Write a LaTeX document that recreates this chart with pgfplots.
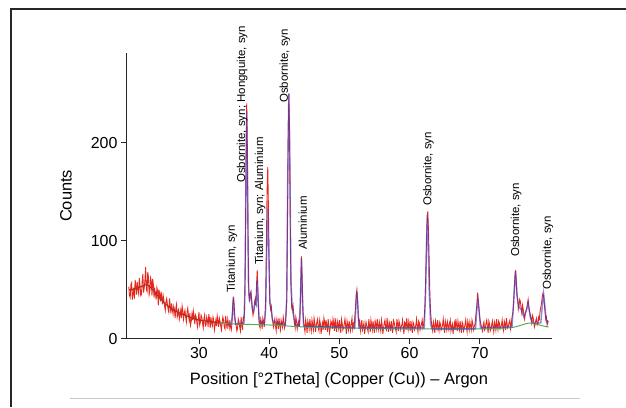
\documentclass[border=0pt]{standalone}
\usepackage{fontspec}
\setmainfont{Liberation Sans}
\usepackage{pgfplots}
\pgfplotsset{compat=1.18}
\definecolor{xred}{RGB}{230,40,28}
\definecolor{xblue}{RGB}{60,60,205}
\definecolor{xgreen}{RGB}{90,170,90}
\definecolor{xbrown}{RGB}{165,50,35}
\begin{document}
\begin{tikzpicture}[x=1bp,y=1bp]
\useasboundingbox (0,0) rectangle (626,407);
\draw[line width=1.5bp, black!85] (11,0) -- (11,398) -- (626,398);
\draw[line width=1bp, black!22] (70,9) -- (580,9);
\begin{axis}[
  scale only axis, width=426bp, height=285.7bp,
  at={(126bp,68.3bp)}, anchor=south west,
  xmin=19.6, xmax=80.3, ymin=0, ymax=291.5,
  axis x line*=bottom, axis y line*=left,
  axis line style={-, line width=1bp, black!85},
  xtick={30,40,50,60,70}, ytick={0,100,200},
  tick align=outside, major tick length=5bp,
  tick style={line width=0.9bp, black!85},
  tick label style={font=\fontsize{16}{18}\selectfont},
  /pgf/number format/assume math mode=true,
  xlabel={Position [°2Theta] (Copper (Cu)) – Argon},
  ylabel={Counts},
  label style={font=\fontsize{16.5}{19}\selectfont},
  xlabel style={at={(axis description cs:0.5,-0.146)}, anchor=center},
  ylabel style={at={(axis description cs:-0.141,0.5)}, anchor=center},
  clip=false,
]
% measured (noisy) pattern
\addplot[xred, line width=0.9bp] coordinates {
(20.0,53)(20.1,44)(20.2,42)(20.3,55)(20.4,57)(20.5,40)(20.6,46)(20.7,52)(20.8,41)(20.9,60)
(21.0,54)(21.1,45)(21.2,58)(21.3,50)(21.4,46)(21.5,62)(21.6,54)(21.7,44)(21.8,45)(21.9,58)
(22.0,66)(22.1,47)(22.2,52)(22.3,60)(22.4,73)(22.5,50)(22.6,48)(22.7,68)(22.8,63)(22.9,45)
(23.0,49)(23.1,62)(23.2,59)(23.3,44)(23.4,61)(23.5,55)(23.6,42)(23.7,50)(23.8,46)(23.9,40)
(24.0,52)(24.1,49)(24.2,34)(24.3,50)(24.4,45)(24.5,38)(24.6,48)(24.7,42)(24.8,35)(24.9,44)
(25.0,39)(25.1,33)(25.2,29)(25.3,38)(25.4,41)(25.5,35)(25.6,30)(25.7,27)(25.8,41)(25.9,34)
(26.0,26)(26.1,36)(26.2,30)(26.3,25)(26.4,33)(26.5,30)(26.6,21)(26.7,31)(26.8,35)(26.9,22)
(27.0,25)(27.1,31)(27.2,20)(27.3,24)(27.4,29)(27.5,21)(27.6,33)(27.7,28)(27.8,20)(27.9,26)
(28.0,29)(28.1,22)(28.2,17)(28.3,27)(28.4,31)(28.5,24)(28.6,19)(28.7,26)(28.8,14)(28.9,18)
(29.0,25)(29.1,19)(29.2,28)(29.3,23)(29.4,15)(29.5,24)(29.6,22)(29.7,16)(29.8,12)(29.9,21)
(30.0,27)(30.1,14)(30.2,17)(30.3,24)(30.4,22)(30.5,16)(30.6,11)(30.7,20)(30.8,24)(30.9,13)
(31.0,14)(31.1,22)(31.2,19)(31.3,12)(31.4,25)(31.5,20)(31.6,11)(31.7,22)(31.8,16)(31.9,13)
(32.0,22)(32.1,19)(32.2,9)(32.3,14)(32.4,19)(32.5,13)(32.6,23)(32.7,18)(32.8,12)(32.9,21)
(33.0,18)(33.1,13)(33.2,9)(33.3,17)(33.4,22)(33.5,19)(33.6,12)(33.7,10)(33.8,23)(33.9,17)
(34.0,10)(34.1,20)(34.2,15)(34.3,11)(34.4,19)(34.5,12)(34.6,9)(34.7,16)(34.8,33)(34.9,43)
(35.0,36)(35.1,22)(35.2,17)(35.3,13)(35.4,8)(35.5,11)(35.6,20)(35.7,17)(35.8,12)(35.9,8)
(36.0,22)(36.1,15)(36.2,9)(36.3,21)(36.4,19)(36.5,30)(36.6,80)(36.7,175)(36.8,240)(36.9,190)
(37.0,95)(37.1,45)(37.2,38)(37.3,46)(37.4,48)(37.5,40)(37.6,30)(37.7,24)(37.8,28)(37.9,36)
(38.0,40)(38.1,34)(38.2,55)(38.3,70)(38.4,48)(38.5,25)(38.6,14)(38.7,11)(38.8,20)(38.9,17)
(39.0,10)(39.1,21)(39.2,18)(39.3,12)(39.4,22)(39.5,40)(39.6,95)(39.7,150)(39.8,175)(39.9,130)
(40.0,70)(40.1,36)(40.2,30)(40.3,33)(40.4,22)(40.5,18)(40.6,12)(40.7,16)(40.8,20)(40.9,13)
(41.0,8)(41.1,20)(41.2,17)(41.3,10)(41.4,21)(41.5,14)(41.6,9)(41.7,19)(41.8,16)(41.9,12)
(42.0,22)(42.1,17)(42.2,11)(42.3,15)(42.4,24)(42.5,40)(42.6,110)(42.7,200)(42.8,250)(42.9,215)
(43.0,120)(43.1,55)(43.2,32)(43.3,30)(43.4,34)(43.5,25)(43.6,16)(43.7,11)(43.8,22)(43.9,18)
(44.0,10)(44.1,15)(44.2,18)(44.3,12)(44.4,25)(44.5,55)(44.6,84)(44.7,62)(44.8,30)(44.9,18)
(45.0,12)(45.1,7)(45.2,19)(45.3,14)(45.4,6)(45.5,18)(45.6,15)(45.7,10)(45.8,20)(45.9,13)
(46.0,8)(46.1,19)(46.2,14)(46.3,9)(46.4,21)(46.5,16)(46.6,7)(46.7,13)(46.8,17)(46.9,20)
(47.0,11)(47.1,8)(47.2,19)(47.3,15)(47.4,5)(47.5,12)(47.6,16)(47.7,9)(47.8,21)(47.9,17)
(48.0,9)(48.1,19)(48.2,13)(48.3,7)(48.4,20)(48.5,14)(48.6,6)(48.7,11)(48.8,18)(48.9,16)
(49.0,10)(49.1,20)(49.2,15)(49.3,8)(49.4,21)(49.5,13)(49.6,7)(49.7,18)(49.8,14)(49.9,10)
(50.0,19)(50.1,12)(50.2,6)(50.3,20)(50.4,16)(50.5,9)(50.6,11)(50.7,15)(50.8,20)(50.9,13)
(51.0,5)(51.1,18)(51.2,14)(51.3,9)(51.4,18)(51.5,12)(51.6,8)(51.7,16)(51.8,21)(51.9,10)
(52.0,15)(52.1,12)(52.2,22)(52.3,32)(52.4,45)(52.5,50)(52.6,38)(52.7,22)(52.8,14)(52.9,18)
(53.0,8)(53.1,13)(53.2,19)(53.3,9)(53.4,12)(53.5,16)(53.6,5)(53.7,11)(53.8,17)(53.9,14)
(54.0,10)(54.1,7)(54.2,20)(54.3,13)(54.4,7)(54.5,19)(54.6,14)(54.7,9)(54.8,18)(54.9,12)
(55.0,6)(55.1,18)(55.2,15)(55.3,10)(55.4,20)(55.5,13)(55.6,9)(55.7,17)(55.8,13)(55.9,8)
(56.0,19)(56.1,14)(56.2,5)(56.3,11)(56.4,16)(56.5,19)(56.6,11)(56.7,9)(56.8,21)(56.9,13)
(57.0,7)(57.1,17)(57.2,14)(57.3,8)(57.4,18)(57.5,12)(57.6,6)(57.7,19)(57.8,17)(57.9,13)
(58.0,10)(58.1,7)(58.2,20)(58.3,15)(58.4,8)(58.5,18)(58.6,15)(58.7,9)(58.8,12)(58.9,14)
(59.0,19)(59.1,11)(59.2,5)(59.3,17)(59.4,16)(59.5,9)(59.6,21)(59.7,13)(59.8,9)(59.9,18)
(60.0,14)(60.1,8)(60.2,18)(60.3,12)(60.4,6)(60.5,17)(60.6,15)(60.7,9)(60.8,11)(60.9,14)
(61.0,20)(61.1,12)(61.2,7)(61.3,18)(61.4,16)(61.5,9)(61.6,12)(61.7,15)(61.8,19)(61.9,11)
(62.0,14)(62.1,22)(62.2,35)(62.3,60)(62.4,95)(62.5,122)(62.6,130)(62.7,110)(62.8,78)(62.9,45)
(63.0,28)(63.1,18)(63.2,12)(63.3,8)(63.4,17)(63.5,13)(63.6,6)(63.7,18)(63.8,14)(63.9,10)
(64.0,19)(64.1,12)(64.2,8)(64.3,17)(64.4,15)(64.5,9)(64.6,11)(64.7,14)(64.8,20)(64.9,12)
(65.0,6)(65.1,18)(65.2,14)(65.3,9)(65.4,17)(65.5,13)(65.6,9)(65.7,16)(65.8,19)(65.9,8)
(66.0,12)(66.1,15)(66.2,5)(66.3,12)(66.4,16)(66.5,9)(66.6,20)(66.7,14)(66.8,8)(66.9,18)
(67.0,13)(67.1,9)(67.2,18)(67.3,12)(67.4,6)(67.5,17)(67.6,15)(67.7,8)(67.8,11)(67.9,14)
(68.0,19)(68.1,12)(68.2,7)(68.3,18)(68.4,14)(68.5,9)(68.6,17)(68.7,13)(68.8,9)(68.9,19)
(69.0,16)(69.1,9)(69.2,12)(69.3,14)(69.4,20)(69.5,28)(69.6,36)(69.7,47)(69.8,38)(69.9,30)
(70.0,22)(70.1,17)(70.2,14)(70.3,11)(70.4,8)(70.5,14)(70.6,17)(70.7,9)(70.8,11)(70.9,16)
(71.0,19)(71.1,12)(71.2,6)(71.3,18)(71.4,15)(71.5,8)(71.6,10)(71.7,14)(71.8,18)(71.9,12)
(72.0,7)(72.1,17)(72.2,14)(72.3,9)(72.4,20)(72.5,13)(72.6,9)(72.7,18)(72.8,16)(72.9,10)
(73.0,12)(73.1,14)(73.2,19)(73.3,11)(73.4,8)(73.5,18)(73.6,15)(73.7,9)(73.8,21)(73.9,15)
(74.0,11)(74.1,13)(74.2,17)(74.3,19)(74.4,10)(74.5,14)(74.6,22)(74.7,25)(74.8,32)(74.9,48)
(75.0,62)(75.1,70)(75.2,60)(75.3,45)(75.4,40)(75.5,30)(75.6,34)(75.7,40)(75.8,38)(75.9,31)
(76.0,26)(76.1,34)(76.2,30)(76.3,24)(76.4,20)(76.5,26)(76.6,28)(76.7,30)(76.8,36)(76.9,40)
(77.0,33)(77.1,28)(77.2,25)(77.3,20)(77.4,16)(77.5,24)(77.6,22)(77.7,17)(77.8,12)(77.9,15)
(78.0,19)(78.1,21)(78.2,14)(78.3,15)(78.4,22)(78.5,20)(78.6,28)(78.7,32)(78.8,36)(78.9,42)
(79.0,46)(79.1,44)(79.2,36)(79.3,28)(79.4,20)(79.5,22)(79.6,14)(79.7,18)(79.8,17)
};
% background (left part)
\addplot[xbrown, line width=1.1bp, smooth] table {
20.0 50
21.0 51
22.0 54
22.5 55
23.0 53
24.0 45
25.0 37
26.0 31
27.0 27
28.0 24
29.0 21
30.0 19
31.0 18
32.0 17
33.0 16
34.0 15.5
};
% background (green)
\addplot[xgreen, line width=1bp, smooth] table {
33.0 16
35.0 15
40.0 14
45.0 12
50.0 11
60.0 10
70.0 10
74.0 11
75.0 12
76.0 14
77.0 16
78.0 15
79.0 13
79.8 12
};
% calculated profile
\addplot[xblue, line width=1.4bp, opacity=0.6] table {
34.0 15
34.6 15
34.75 24
34.9 42
35.05 24
35.2 15
36.4 16
36.55 50
36.7 170
36.8 232
36.9 170
37.05 55
37.2 40
37.4 46
37.6 30
37.8 28
38.0 38
38.15 35
38.3 60
38.45 35
38.6 17
39.3 15
39.5 30
39.65 90
39.8 132
39.95 90
40.1 38
40.3 30
40.5 18
42.3 14
42.5 40
42.65 170
42.8 250
42.95 180
43.1 60
43.3 30
43.5 22
43.7 14
44.3 13
44.45 40
44.6 82
44.75 40
44.9 13
52.2 11
52.4 38
52.5 48
52.6 38
52.8 11
62.1 11
62.3 50
62.45 105
62.55 126
62.65 105
62.8 50
63.0 15
63.2 10
69.4 10
69.6 30
69.75 40
69.9 30
70.1 11
74.6 12
74.85 40
75.1 69
75.35 42
75.6 32
75.9 30
76.3 22
76.6 28
76.9 36
77.2 22
77.6 16
78.7 16
78.9 32
79.1 46
79.3 32
79.5 18
79.7 15
};
\begin{scope}[every node/.style={rotate=90, anchor=west, inner sep=0pt, font=\fontsize{11.5}{13}\selectfont}]
\node at (axis cs:34.7,46.6) {Titanium, syn};
\node at (axis cs:36.15,158.9) {Osbornite, syn; Hongquite, syn};
\node at (axis cs:38.7,75.2) {Titanium, syn; Aluminium};
\node at (axis cs:42.25,240.5) {Osbornite, syn};
\node at (axis cs:44.8,90.5) {Aluminium};
\node at (axis cs:62.7,135.4) {Osbornite, syn};
\node at (axis cs:75.2,83.4) {Osbornite, syn};
\node at (axis cs:79.7,49.7) {Osbornite, syn};
\end{scope}
\end{axis}
\end{tikzpicture}
\end{document}
